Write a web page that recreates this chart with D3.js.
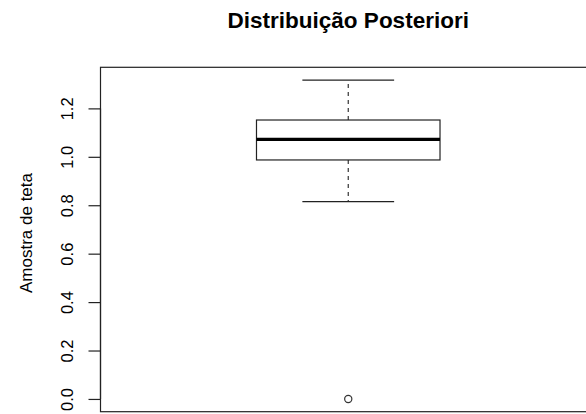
<!DOCTYPE html>
<html>
<head>
<meta charset="utf-8">
<script src="https://cdn.jsdelivr.net/npm/d3@7"></script>
<style>
  html, body { margin: 0; padding: 0; background: #fff; }
  svg { display: block; }
  text { font-family: "Liberation Sans", Arial, Helvetica, sans-serif; fill: #000; }
</style>
</head>
<body>
<script>
// Posterior sample summary for teta (five-number summary + outliers)
const stats = ["min", "q1", "median", "q3", "max"];
const statValues = [0.815, 0.987, 1.072, 1.152, 1.317];
const outliers = [0.0];
const yTicks = [0.0, 0.2, 0.4, 0.6, 0.8, 1.0, 1.2];
const titleText = "Distribuição Posteriori";
const yLabelText = "Amostra de teta";

const W = 586, H = 414;
const box = Object.fromEntries(stats.map((k, i) => [k, statValues[i]]));

const svg = d3.select("body").append("svg")
  .attr("width", W).attr("height", H);

// Data range padded by 4% on each side, as in a base-graphics plot
const lo = d3.min([box.min, ...outliers]);
const hi = d3.max([box.max, ...outliers]);
const pad = (hi - lo) * 0.04;

const plotLeft = 100.5, plotRight = 596, plotTop = 67.3, plotBottom = 411.7;

const y = d3.scaleLinear().domain([lo - pad, hi + pad]).range([plotBottom, plotTop]);
const x = d3.scaleLinear().domain([0.46, 1.54]).range([plotLeft, plotRight]);

const center = 1, boxWidth = 0.4, capWidth = 0.2;

// Plot frame
svg.append("rect")
  .attr("x", plotLeft).attr("y", plotTop)
  .attr("width", plotRight - plotLeft).attr("height", plotBottom - plotTop)
  .attr("fill", "none").attr("stroke", "#222").attr("stroke-width", 1.2);

// Y axis
const yAxis = d3.axisLeft(y).tickValues(yTicks).tickSize(12).tickPadding(0)
  .tickFormat(d3.format(".1f"));
const gy = svg.append("g").attr("transform", `translate(${plotLeft},0)`).call(yAxis);
gy.select(".domain").attr("stroke", "#222").attr("stroke-width", 1.2)
  .attr("d", `M0,${y(yTicks[0])}V${y(yTicks[yTicks.length-1])}`);
gy.selectAll(".tick line").attr("stroke", "#222").attr("stroke-width", 1.2);
gy.selectAll(".tick text")
  .attr("x", null).attr("dy", null)
  .attr("transform", "translate(-27.2,0) rotate(-90)")
  .attr("text-anchor", "middle")
  .style("font-size", "16.5px")
  .style("font-family", "'Liberation Sans', Arial, sans-serif");

// Whiskers (dashed)
const g = svg.append("g");
g.append("line")
  .attr("x1", x(center)).attr("x2", x(center))
  .attr("y1", y(box.q3)).attr("y2", y(box.max))
  .attr("stroke", "#333").attr("stroke-width", 1.2).attr("stroke-dasharray", "4,4");
g.append("line")
  .attr("x1", x(center)).attr("x2", x(center))
  .attr("y1", y(box.q1)).attr("y2", y(box.min))
  .attr("stroke", "#333").attr("stroke-width", 1.2).attr("stroke-dasharray", "4,4");

// Whisker caps
[box.min, box.max].forEach(v => {
  g.append("line")
    .attr("x1", x(center - capWidth / 2)).attr("x2", x(center + capWidth / 2))
    .attr("y1", y(v)).attr("y2", y(v))
    .attr("stroke", "#222").attr("stroke-width", 1.2);
});

// Box
g.append("rect")
  .attr("x", x(center - boxWidth / 2)).attr("y", y(box.q3))
  .attr("width", x(center + boxWidth / 2) - x(center - boxWidth / 2))
  .attr("height", y(box.q1) - y(box.q3))
  .attr("fill", "#fff").attr("stroke", "#222").attr("stroke-width", 1.2);

// Median
g.append("line")
  .attr("x1", x(center - boxWidth / 2)).attr("x2", x(center + boxWidth / 2))
  .attr("y1", y(box.median)).attr("y2", y(box.median))
  .attr("stroke", "#000").attr("stroke-width", 3.2);

// Outliers
g.selectAll("circle.out").data(outliers).enter().append("circle")
  .attr("class", "out")
  .attr("cx", x(center)).attr("cy", d => y(d)).attr("r", 3.6)
  .attr("fill", "none").attr("stroke", "#333").attr("stroke-width", 1.2);

// Title
svg.append("text")
  .attr("x", x(center)).attr("y", 27.5)
  .attr("text-anchor", "middle")
  .style("font-size", "22.5px").style("font-weight", "bold")
  .text(titleText);

// Y axis label
svg.append("text")
  .attr("transform", `translate(31.7,233) rotate(-90)`)
  .attr("text-anchor", "middle")
  .style("font-size", "17px")
  .text(yLabelText);
</script>
</body>
</html>
